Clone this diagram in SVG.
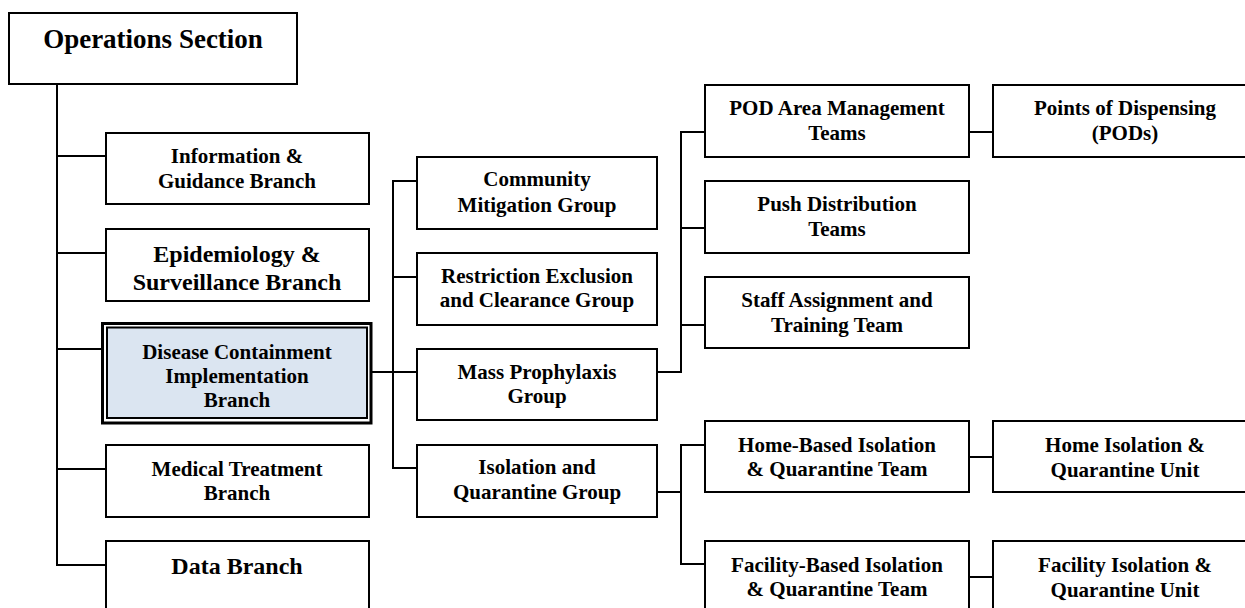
<svg xmlns="http://www.w3.org/2000/svg" width="1245" height="608" viewBox="0 0 1245 608">
<style>
.box{fill:#fff;stroke:#000;stroke-width:2}
.t{font-family:"Liberation Serif","Times New Roman",serif;font-weight:bold;font-size:21px;fill:#000;text-anchor:middle}
.big{font-size:24px}
.huge{font-size:27px}
.c{fill:none;stroke:#000;stroke-width:2}
</style>
<rect width="1245" height="608" fill="#fff"/>
<g id="connectors">
<path class="c" d="M57 84V566M56 156H105M56 253H105M56 349H101M56 469H105M56 565H105"/>
<path class="c" d="M372 372H417M393 180V469M392 181H417M392 277H417M392 468H417"/>
<path class="c" d="M657 372H682M681 131V373M680 132H704M680 228H704M680 325H704M969 132H992"/>
<path class="c" d="M657 492H682M681 444V565M680 445H705M680 564H705M969 457H993M969 577H993"/>
</g>
<g id="ops"><rect class="box" x="9" y="13" width="288" height="71"/><text class="t huge" x="153" y="48">Operations Section</text></g>
<g id="info"><rect class="box" x="106" y="133" width="263" height="71"/><text class="t" x="237" y="163">Information &amp;</text><text class="t" x="237" y="188">Guidance Branch</text></g>
<g id="epi"><rect class="box" x="106" y="229" width="263" height="72"/><text class="t big" x="237" y="262">Epidemiology &amp;</text><text class="t big" x="237" y="290">Surveillance Branch</text></g>
<g id="dis"><rect x="102.5" y="323.5" width="268.5" height="99.5" fill="#fff" stroke="#000" stroke-width="3"/><rect x="107" y="327.5" width="260" height="90.5" fill="#dbe5f1" stroke="#000" stroke-width="2"/><text class="t" x="237" y="359">Disease Containment</text><text class="t" x="237" y="383">Implementation</text><text class="t" x="237" y="407">Branch</text></g>
<g id="med"><rect class="box" x="106" y="445" width="263" height="72"/><text class="t" x="237" y="476">Medical Treatment</text><text class="t" x="237" y="500">Branch</text></g>
<g id="data"><rect class="box" x="106" y="541" width="263" height="75"/><text class="t big" x="237" y="574">Data Branch</text></g>
<g id="comm"><rect class="box" x="417" y="157" width="240" height="72"/><text class="t" x="537" y="186">Community</text><text class="t" x="537" y="212">Mitigation Group</text></g>
<g id="restr"><rect class="box" x="417" y="253" width="240" height="72"/><text class="t" x="537" y="283">Restriction Exclusion</text><text class="t" x="537" y="307">and Clearance Group</text></g>
<g id="mass"><rect class="box" x="417" y="349" width="240" height="71"/><text class="t" x="537" y="379">Mass Prophylaxis</text><text class="t" x="537" y="403">Group</text></g>
<g id="iso"><rect class="box" x="417" y="445" width="240" height="72"/><text class="t" x="537" y="474">Isolation and</text><text class="t" x="537" y="499">Quarantine Group</text></g>
<g id="podarea"><rect class="box" x="705" y="85" width="264" height="72"/><text class="t" x="837" y="115">POD Area Management</text><text class="t" x="837" y="140">Teams</text></g>
<g id="push"><rect class="box" x="705" y="181" width="264" height="72"/><text class="t" x="837" y="211">Push Distribution</text><text class="t" x="837" y="236">Teams</text></g>
<g id="staff"><rect class="box" x="705" y="277" width="264" height="71"/><text class="t" x="837" y="307">Staff Assignment and</text><text class="t" x="837" y="332">Training Team</text></g>
<g id="pods"><rect class="box" x="993" y="85" width="266" height="72"/><text class="t" x="1125" y="115">Points of Dispensing</text><text class="t" x="1125" y="140">(PODs)</text></g>
<g id="home"><rect class="box" x="705" y="421" width="264" height="71"/><text class="t" x="837" y="452">Home-Based Isolation</text><text class="t" x="837" y="476">&amp; Quarantine Team</text></g>
<g id="fac"><rect class="box" x="705" y="541" width="264" height="75"/><text class="t" x="837" y="572">Facility-Based Isolation</text><text class="t" x="837" y="596">&amp; Quarantine Team</text></g>
<g id="homeunit"><rect class="box" x="993" y="421" width="266" height="71"/><text class="t" x="1125" y="452">Home Isolation &amp;</text><text class="t" x="1125" y="477">Quarantine Unit</text></g>
<g id="facunit"><rect class="box" x="993" y="541" width="266" height="75"/><text class="t" x="1125" y="572">Facility Isolation &amp;</text><text class="t" x="1125" y="597">Quarantine Unit</text></g>
</svg>
